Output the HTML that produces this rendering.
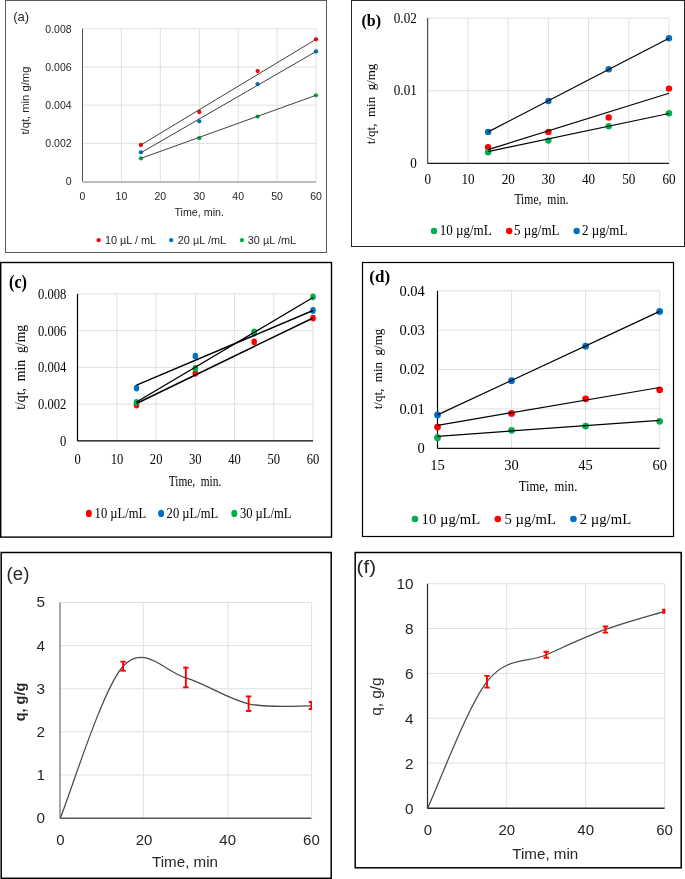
<!DOCTYPE html>
<html><head><meta charset="utf-8"><title>Figure</title>
<style>
html,body{margin:0;padding:0;background:#fff;}
body{width:685px;height:879px;overflow:hidden;font-family:"Liberation Sans", sans-serif;}
svg{display:block;will-change:transform;}
</style></head><body>
<svg width="685" height="879" viewBox="0 0 685 879">
<rect x="0" y="0" width="685" height="879" fill="#fff"/>
<rect x="5.5" y="0.5" width="321" height="252" fill="none" stroke="#595959" stroke-width="1"/>
<text transform="translate(13.20,20.50)" font-size="13" font-family='"Liberation Sans", sans-serif' fill="#262626" text-anchor="start" xml:space="preserve">(a)</text>
<line x1="121.42" y1="28.78" x2="121.42" y2="181.50" stroke="#e0e0e0" stroke-width="1"/>
<line x1="160.34" y1="28.78" x2="160.34" y2="181.50" stroke="#e0e0e0" stroke-width="1"/>
<line x1="199.26" y1="28.78" x2="199.26" y2="181.50" stroke="#e0e0e0" stroke-width="1"/>
<line x1="238.18" y1="28.78" x2="238.18" y2="181.50" stroke="#e0e0e0" stroke-width="1"/>
<line x1="277.10" y1="28.78" x2="277.10" y2="181.50" stroke="#e0e0e0" stroke-width="1"/>
<line x1="316.02" y1="28.78" x2="316.02" y2="181.50" stroke="#e0e0e0" stroke-width="1"/>
<line x1="82.50" y1="143.32" x2="316.02" y2="143.32" stroke="#e0e0e0" stroke-width="1"/>
<line x1="82.50" y1="105.14" x2="316.02" y2="105.14" stroke="#e0e0e0" stroke-width="1"/>
<line x1="82.50" y1="66.96" x2="316.02" y2="66.96" stroke="#e0e0e0" stroke-width="1"/>
<line x1="82.50" y1="28.78" x2="316.02" y2="28.78" stroke="#e0e0e0" stroke-width="1"/>
<line x1="82.50" y1="28.78" x2="82.50" y2="181.50" stroke="#4d4d4d" stroke-width="1"/>
<line x1="82.50" y1="181.90" x2="316.02" y2="181.90" stroke="#a6a6a6" stroke-width="1.5"/>
<text transform="translate(71.60,185.30)" font-size="10.5" font-family='"Liberation Sans", sans-serif' fill="#262626" text-anchor="end" xml:space="preserve">0</text>
<text transform="translate(71.60,147.12)" font-size="10.5" font-family='"Liberation Sans", sans-serif' fill="#262626" text-anchor="end" xml:space="preserve">0.002</text>
<text transform="translate(71.60,108.94)" font-size="10.5" font-family='"Liberation Sans", sans-serif' fill="#262626" text-anchor="end" xml:space="preserve">0.004</text>
<text transform="translate(71.60,70.76)" font-size="10.5" font-family='"Liberation Sans", sans-serif' fill="#262626" text-anchor="end" xml:space="preserve">0.006</text>
<text transform="translate(71.60,32.58)" font-size="10.5" font-family='"Liberation Sans", sans-serif' fill="#262626" text-anchor="end" xml:space="preserve">0.008</text>
<text transform="translate(82.50,200.40)" font-size="10.5" font-family='"Liberation Sans", sans-serif' fill="#262626" text-anchor="middle" xml:space="preserve">0</text>
<text transform="translate(121.42,200.40)" font-size="10.5" font-family='"Liberation Sans", sans-serif' fill="#262626" text-anchor="middle" xml:space="preserve">10</text>
<text transform="translate(160.34,200.40)" font-size="10.5" font-family='"Liberation Sans", sans-serif' fill="#262626" text-anchor="middle" xml:space="preserve">20</text>
<text transform="translate(199.26,200.40)" font-size="10.5" font-family='"Liberation Sans", sans-serif' fill="#262626" text-anchor="middle" xml:space="preserve">30</text>
<text transform="translate(238.18,200.40)" font-size="10.5" font-family='"Liberation Sans", sans-serif' fill="#262626" text-anchor="middle" xml:space="preserve">40</text>
<text transform="translate(277.10,200.40)" font-size="10.5" font-family='"Liberation Sans", sans-serif' fill="#262626" text-anchor="middle" xml:space="preserve">50</text>
<text transform="translate(316.02,200.40)" font-size="10.5" font-family='"Liberation Sans", sans-serif' fill="#262626" text-anchor="middle" xml:space="preserve">60</text>
<text transform="translate(28.70,100.60) rotate(-90)" font-size="10.8" font-family='"Liberation Sans", sans-serif' fill="#262626" text-anchor="middle" textLength="68" lengthAdjust="spacingAndGlyphs" xml:space="preserve">t/qt, min g/mg</text>
<text transform="translate(199.20,216.20)" font-size="11" font-family='"Liberation Sans", sans-serif' fill="#262626" text-anchor="middle" textLength="49.5" lengthAdjust="spacingAndGlyphs" xml:space="preserve">Time, min.</text>
<circle cx="98.70" cy="240.10" r="2.2" fill="#ff0000"/>
<text transform="translate(104.90,243.80)" font-size="10.9" font-family='"Liberation Sans", sans-serif' fill="#262626" text-anchor="start" xml:space="preserve">10 µL / mL</text>
<circle cx="171.20" cy="240.10" r="2.2" fill="#0070c0"/>
<text transform="translate(177.80,243.80)" font-size="10.9" font-family='"Liberation Sans", sans-serif' fill="#262626" text-anchor="start" xml:space="preserve">20 µL /mL</text>
<circle cx="241.90" cy="240.10" r="2.2" fill="#00b050"/>
<text transform="translate(247.80,243.80)" font-size="10.9" font-family='"Liberation Sans", sans-serif' fill="#262626" text-anchor="start" xml:space="preserve">30 µL /mL</text>
<circle cx="140.88" cy="145.00" r="2.15" fill="#ff0000"/>
<circle cx="199.26" cy="112.00" r="2.15" fill="#ff0000"/>
<circle cx="257.64" cy="71.10" r="2.15" fill="#ff0000"/>
<circle cx="316.02" cy="39.30" r="2.15" fill="#ff0000"/>
<circle cx="140.88" cy="152.30" r="2.15" fill="#0070c0"/>
<circle cx="199.26" cy="121.30" r="2.15" fill="#0070c0"/>
<circle cx="257.64" cy="84.20" r="2.15" fill="#0070c0"/>
<circle cx="316.02" cy="51.50" r="2.15" fill="#0070c0"/>
<circle cx="140.88" cy="158.40" r="2.15" fill="#00b050"/>
<circle cx="199.26" cy="138.20" r="2.15" fill="#00b050"/>
<circle cx="257.64" cy="116.60" r="2.15" fill="#00b050"/>
<circle cx="316.02" cy="95.30" r="2.15" fill="#00b050"/>
<line x1="140.80" y1="145.00" x2="316.00" y2="39.30" stroke="#404040" stroke-width="1"/>
<line x1="140.80" y1="152.80" x2="316.00" y2="51.50" stroke="#404040" stroke-width="1"/>
<line x1="140.80" y1="158.40" x2="316.00" y2="95.30" stroke="#404040" stroke-width="1"/>
<rect x="351.5" y="0.5" width="333" height="246" fill="none" stroke="#262626" stroke-width="1"/>
<text transform="translate(361.50,26.00)" font-size="16" font-family='"Liberation Serif", serif' fill="#000" text-anchor="start" font-weight="bold" xml:space="preserve">(b)</text>
<line x1="468.00" y1="18.10" x2="468.00" y2="163.30" stroke="#e0e0e0" stroke-width="1"/>
<line x1="508.20" y1="18.10" x2="508.20" y2="163.30" stroke="#e0e0e0" stroke-width="1"/>
<line x1="548.40" y1="18.10" x2="548.40" y2="163.30" stroke="#e0e0e0" stroke-width="1"/>
<line x1="588.60" y1="18.10" x2="588.60" y2="163.30" stroke="#e0e0e0" stroke-width="1"/>
<line x1="628.80" y1="18.10" x2="628.80" y2="163.30" stroke="#e0e0e0" stroke-width="1"/>
<line x1="669.00" y1="18.10" x2="669.00" y2="163.30" stroke="#e0e0e0" stroke-width="1"/>
<line x1="427.80" y1="90.70" x2="669.00" y2="90.70" stroke="#e0e0e0" stroke-width="1"/>
<line x1="427.80" y1="18.10" x2="669.00" y2="18.10" stroke="#e0e0e0" stroke-width="1"/>
<line x1="427.60" y1="18.10" x2="427.60" y2="163.50" stroke="#555" stroke-width="1.3"/>
<line x1="427.50" y1="163.40" x2="669.00" y2="163.40" stroke="#1a1a1a" stroke-width="1.3"/>
<text transform="translate(416.80,167.70) scale(0.94,1)" font-size="14" font-family='"Liberation Serif", serif' fill="#000" text-anchor="end" xml:space="preserve">0</text>
<text transform="translate(416.80,95.10) scale(0.94,1)" font-size="14" font-family='"Liberation Serif", serif' fill="#000" text-anchor="end" xml:space="preserve">0.01</text>
<text transform="translate(416.80,22.50) scale(0.94,1)" font-size="14" font-family='"Liberation Serif", serif' fill="#000" text-anchor="end" xml:space="preserve">0.02</text>
<text transform="translate(427.80,184.30) scale(0.94,1)" font-size="14" font-family='"Liberation Serif", serif' fill="#000" text-anchor="middle" xml:space="preserve">0</text>
<text transform="translate(468.00,184.30) scale(0.94,1)" font-size="14" font-family='"Liberation Serif", serif' fill="#000" text-anchor="middle" xml:space="preserve">10</text>
<text transform="translate(508.20,184.30) scale(0.94,1)" font-size="14" font-family='"Liberation Serif", serif' fill="#000" text-anchor="middle" xml:space="preserve">20</text>
<text transform="translate(548.40,184.30) scale(0.94,1)" font-size="14" font-family='"Liberation Serif", serif' fill="#000" text-anchor="middle" xml:space="preserve">30</text>
<text transform="translate(588.60,184.30) scale(0.94,1)" font-size="14" font-family='"Liberation Serif", serif' fill="#000" text-anchor="middle" xml:space="preserve">40</text>
<text transform="translate(628.80,184.30) scale(0.94,1)" font-size="14" font-family='"Liberation Serif", serif' fill="#000" text-anchor="middle" xml:space="preserve">50</text>
<text transform="translate(669.00,184.30) scale(0.94,1)" font-size="14" font-family='"Liberation Serif", serif' fill="#000" text-anchor="middle" xml:space="preserve">60</text>
<text transform="translate(374.80,103.90) rotate(-90)" font-size="13" font-family='"Liberation Serif", serif' fill="#000" text-anchor="middle" xml:space="preserve">t/qt,  min  g/mg</text>
<text transform="translate(541.40,203.80)" font-size="14.3" font-family='"Liberation Serif", serif' fill="#000" text-anchor="middle" textLength="54" lengthAdjust="spacingAndGlyphs" xml:space="preserve">Time,  min.</text>
<circle cx="434.00" cy="231.00" r="3.2" fill="#00b050"/>
<text transform="translate(439.70,234.80) scale(0.93,1)" font-size="14" font-family='"Liberation Serif", serif' fill="#000" text-anchor="start" xml:space="preserve">10 µg/mL</text>
<circle cx="509.20" cy="231.00" r="3.2" fill="#ff0000"/>
<text transform="translate(514.10,234.80) scale(0.93,1)" font-size="14" font-family='"Liberation Serif", serif' fill="#000" text-anchor="start" xml:space="preserve">5 µg/mL</text>
<circle cx="576.70" cy="231.00" r="3.2" fill="#0070c0"/>
<text transform="translate(582.00,234.80) scale(0.93,1)" font-size="14" font-family='"Liberation Serif", serif' fill="#000" text-anchor="start" xml:space="preserve">2 µg/mL</text>
<circle cx="488.10" cy="131.90" r="3.2" fill="#0070c0"/>
<circle cx="548.40" cy="101.00" r="3.2" fill="#0070c0"/>
<circle cx="608.70" cy="69.20" r="3.2" fill="#0070c0"/>
<circle cx="669.00" cy="38.20" r="3.2" fill="#0070c0"/>
<circle cx="488.10" cy="147.20" r="3.2" fill="#ff0000"/>
<circle cx="548.40" cy="131.90" r="3.2" fill="#ff0000"/>
<circle cx="608.70" cy="117.50" r="3.2" fill="#ff0000"/>
<circle cx="669.00" cy="88.60" r="3.2" fill="#ff0000"/>
<circle cx="488.10" cy="152.30" r="3.2" fill="#00b050"/>
<circle cx="548.40" cy="140.60" r="3.2" fill="#00b050"/>
<circle cx="608.70" cy="126.30" r="3.2" fill="#00b050"/>
<circle cx="669.00" cy="113.30" r="3.2" fill="#00b050"/>
<line x1="488.10" y1="131.90" x2="669.00" y2="38.30" stroke="#000" stroke-width="1.2"/>
<line x1="488.10" y1="149.60" x2="669.00" y2="93.30" stroke="#000" stroke-width="1.2"/>
<line x1="488.10" y1="151.60" x2="669.00" y2="113.50" stroke="#000" stroke-width="1.2"/>
<rect x="0.7" y="262.5" width="330.8" height="274.6" fill="none" stroke="#000" stroke-width="1.4"/>
<text transform="translate(9.00,288.30) scale(0.9,1)" font-size="18" font-family='"Liberation Serif", serif' fill="#000" text-anchor="start" font-weight="bold" xml:space="preserve">(c)</text>
<line x1="116.92" y1="293.90" x2="116.92" y2="440.90" stroke="#e0e0e0" stroke-width="1"/>
<line x1="156.14" y1="293.90" x2="156.14" y2="440.90" stroke="#e0e0e0" stroke-width="1"/>
<line x1="195.36" y1="293.90" x2="195.36" y2="440.90" stroke="#e0e0e0" stroke-width="1"/>
<line x1="234.58" y1="293.90" x2="234.58" y2="440.90" stroke="#e0e0e0" stroke-width="1"/>
<line x1="273.80" y1="293.90" x2="273.80" y2="440.90" stroke="#e0e0e0" stroke-width="1"/>
<line x1="313.02" y1="293.90" x2="313.02" y2="440.90" stroke="#e0e0e0" stroke-width="1"/>
<line x1="77.70" y1="404.15" x2="313.02" y2="404.15" stroke="#e0e0e0" stroke-width="1"/>
<line x1="77.70" y1="367.40" x2="313.02" y2="367.40" stroke="#e0e0e0" stroke-width="1"/>
<line x1="77.70" y1="330.65" x2="313.02" y2="330.65" stroke="#e0e0e0" stroke-width="1"/>
<line x1="77.70" y1="293.90" x2="313.02" y2="293.90" stroke="#e0e0e0" stroke-width="1"/>
<line x1="77.50" y1="293.90" x2="77.50" y2="441.00" stroke="#000" stroke-width="1.2"/>
<line x1="77.50" y1="440.90" x2="313.02" y2="440.90" stroke="#000" stroke-width="1.4"/>
<text transform="translate(66.30,445.90) scale(0.85,1)" font-size="14.8" font-family='"Liberation Serif", serif' fill="#000" text-anchor="end" xml:space="preserve">0</text>
<text transform="translate(66.30,409.15) scale(0.85,1)" font-size="14.8" font-family='"Liberation Serif", serif' fill="#000" text-anchor="end" xml:space="preserve">0.002</text>
<text transform="translate(66.30,372.40) scale(0.85,1)" font-size="14.8" font-family='"Liberation Serif", serif' fill="#000" text-anchor="end" xml:space="preserve">0.004</text>
<text transform="translate(66.30,335.65) scale(0.85,1)" font-size="14.8" font-family='"Liberation Serif", serif' fill="#000" text-anchor="end" xml:space="preserve">0.006</text>
<text transform="translate(66.30,298.90) scale(0.85,1)" font-size="14.8" font-family='"Liberation Serif", serif' fill="#000" text-anchor="end" xml:space="preserve">0.008</text>
<text transform="translate(77.70,464.00) scale(0.85,1)" font-size="14.8" font-family='"Liberation Serif", serif' fill="#000" text-anchor="middle" xml:space="preserve">0</text>
<text transform="translate(116.92,464.00) scale(0.85,1)" font-size="14.8" font-family='"Liberation Serif", serif' fill="#000" text-anchor="middle" xml:space="preserve">10</text>
<text transform="translate(156.14,464.00) scale(0.85,1)" font-size="14.8" font-family='"Liberation Serif", serif' fill="#000" text-anchor="middle" xml:space="preserve">20</text>
<text transform="translate(195.36,464.00) scale(0.85,1)" font-size="14.8" font-family='"Liberation Serif", serif' fill="#000" text-anchor="middle" xml:space="preserve">30</text>
<text transform="translate(234.58,464.00) scale(0.85,1)" font-size="14.8" font-family='"Liberation Serif", serif' fill="#000" text-anchor="middle" xml:space="preserve">40</text>
<text transform="translate(273.80,464.00) scale(0.85,1)" font-size="14.8" font-family='"Liberation Serif", serif' fill="#000" text-anchor="middle" xml:space="preserve">50</text>
<text transform="translate(313.02,464.00) scale(0.85,1)" font-size="14.8" font-family='"Liberation Serif", serif' fill="#000" text-anchor="middle" xml:space="preserve">60</text>
<text transform="translate(25.00,367.30) rotate(-90)" font-size="14.8" font-family='"Liberation Serif", serif' fill="#000" text-anchor="middle" textLength="85" lengthAdjust="spacingAndGlyphs" xml:space="preserve">t/qt,  min  g/mg</text>
<text transform="translate(195.00,485.90)" font-size="15.4" font-family='"Liberation Serif", serif' fill="#000" text-anchor="middle" textLength="52.5" lengthAdjust="spacingAndGlyphs" xml:space="preserve">Time,  min.</text>
<ellipse cx="88.80" cy="513.40" rx="3.0" ry="3.6" fill="#ff0000"/>
<text transform="translate(94.60,517.80)" font-size="15.5" font-family='"Liberation Serif", serif' fill="#000" text-anchor="start" textLength="51.6" lengthAdjust="spacingAndGlyphs" xml:space="preserve">10 µL/mL</text>
<ellipse cx="161.10" cy="513.40" rx="3.0" ry="3.6" fill="#0070c0"/>
<text transform="translate(166.60,517.80)" font-size="15.5" font-family='"Liberation Serif", serif' fill="#000" text-anchor="start" textLength="51.6" lengthAdjust="spacingAndGlyphs" xml:space="preserve">20 µL/mL</text>
<ellipse cx="234.30" cy="513.40" rx="3.0" ry="3.6" fill="#00b050"/>
<text transform="translate(239.90,517.80)" font-size="15.5" font-family='"Liberation Serif", serif' fill="#000" text-anchor="start" textLength="51.6" lengthAdjust="spacingAndGlyphs" xml:space="preserve">30 µL/mL</text>
<ellipse cx="136.53" cy="405.00" rx="2.8" ry="3.4" fill="#ff0000"/>
<ellipse cx="195.36" cy="373.20" rx="2.8" ry="3.4" fill="#ff0000"/>
<ellipse cx="254.19" cy="341.80" rx="2.8" ry="3.4" fill="#ff0000"/>
<ellipse cx="313.02" cy="318.10" rx="2.8" ry="3.4" fill="#ff0000"/>
<ellipse cx="136.53" cy="388.10" rx="2.8" ry="3.4" fill="#0070c0"/>
<ellipse cx="195.36" cy="356.10" rx="2.8" ry="3.4" fill="#0070c0"/>
<ellipse cx="254.19" cy="333.00" rx="2.8" ry="3.4" fill="#0070c0"/>
<ellipse cx="313.02" cy="310.40" rx="2.8" ry="3.4" fill="#0070c0"/>
<ellipse cx="136.53" cy="402.30" rx="2.8" ry="3.4" fill="#00b050"/>
<ellipse cx="195.36" cy="368.40" rx="2.8" ry="3.4" fill="#00b050"/>
<ellipse cx="254.19" cy="332.00" rx="2.8" ry="3.4" fill="#00b050"/>
<ellipse cx="313.02" cy="296.80" rx="2.8" ry="3.4" fill="#00b050"/>
<line x1="136.53" y1="385.20" x2="313.02" y2="310.50" stroke="#000" stroke-width="1.4"/>
<line x1="136.53" y1="402.00" x2="313.02" y2="297.50" stroke="#000" stroke-width="1.4"/>
<line x1="136.53" y1="403.50" x2="313.02" y2="318.00" stroke="#000" stroke-width="1.4"/>
<rect x="362.5" y="262.5" width="311" height="274" fill="none" stroke="#000" stroke-width="1.2"/>
<text transform="translate(369.30,281.80)" font-size="17" font-family='"Liberation Serif", serif' fill="#000" text-anchor="start" font-weight="bold" xml:space="preserve">(d)</text>
<line x1="511.56" y1="290.80" x2="511.56" y2="448.20" stroke="#e0e0e0" stroke-width="1"/>
<line x1="585.61" y1="290.80" x2="585.61" y2="448.20" stroke="#e0e0e0" stroke-width="1"/>
<line x1="659.66" y1="290.80" x2="659.66" y2="448.20" stroke="#e0e0e0" stroke-width="1"/>
<line x1="437.50" y1="408.85" x2="659.66" y2="408.85" stroke="#e0e0e0" stroke-width="1"/>
<line x1="437.50" y1="369.50" x2="659.66" y2="369.50" stroke="#e0e0e0" stroke-width="1"/>
<line x1="437.50" y1="330.15" x2="659.66" y2="330.15" stroke="#e0e0e0" stroke-width="1"/>
<line x1="437.50" y1="290.80" x2="659.66" y2="290.80" stroke="#e0e0e0" stroke-width="1"/>
<line x1="437.50" y1="290.80" x2="437.50" y2="448.50" stroke="#000" stroke-width="1.2"/>
<line x1="437.50" y1="448.40" x2="659.66" y2="448.40" stroke="#111" stroke-width="1.1"/>
<text transform="translate(424.80,453.00)" font-size="14.5" font-family='"Liberation Serif", serif' fill="#000" text-anchor="end" xml:space="preserve">0</text>
<text transform="translate(424.80,413.65)" font-size="14.5" font-family='"Liberation Serif", serif' fill="#000" text-anchor="end" xml:space="preserve">0.01</text>
<text transform="translate(424.80,374.30)" font-size="14.5" font-family='"Liberation Serif", serif' fill="#000" text-anchor="end" xml:space="preserve">0.02</text>
<text transform="translate(424.80,334.95)" font-size="14.5" font-family='"Liberation Serif", serif' fill="#000" text-anchor="end" xml:space="preserve">0.03</text>
<text transform="translate(424.80,295.60)" font-size="14.5" font-family='"Liberation Serif", serif' fill="#000" text-anchor="end" xml:space="preserve">0.04</text>
<text transform="translate(437.50,470.20)" font-size="14.5" font-family='"Liberation Serif", serif' fill="#000" text-anchor="middle" xml:space="preserve">15</text>
<text transform="translate(511.56,470.20)" font-size="14.5" font-family='"Liberation Serif", serif' fill="#000" text-anchor="middle" xml:space="preserve">30</text>
<text transform="translate(585.61,470.20)" font-size="14.5" font-family='"Liberation Serif", serif' fill="#000" text-anchor="middle" xml:space="preserve">45</text>
<text transform="translate(659.66,470.20)" font-size="14.5" font-family='"Liberation Serif", serif' fill="#000" text-anchor="middle" xml:space="preserve">60</text>
<text transform="translate(382.00,369.00) rotate(-90)" font-size="13" font-family='"Liberation Serif", serif' fill="#000" text-anchor="middle" xml:space="preserve">t/qt,  min  g/mg</text>
<text transform="translate(548.00,490.70)" font-size="15" font-family='"Liberation Serif", serif' fill="#000" text-anchor="middle" textLength="58.6" lengthAdjust="spacingAndGlyphs" xml:space="preserve">Time,  min.</text>
<circle cx="415.00" cy="519.00" r="3.3" fill="#00b050"/>
<text transform="translate(421.60,524.00)" font-size="14.7" font-family='"Liberation Serif", serif' fill="#000" text-anchor="start" xml:space="preserve">10 µg/mL</text>
<circle cx="497.80" cy="519.00" r="3.3" fill="#ff0000"/>
<text transform="translate(504.60,524.00)" font-size="14.7" font-family='"Liberation Serif", serif' fill="#000" text-anchor="start" xml:space="preserve">5 µg/mL</text>
<circle cx="573.40" cy="519.00" r="3.3" fill="#0070c0"/>
<text transform="translate(579.80,524.00)" font-size="14.7" font-family='"Liberation Serif", serif' fill="#000" text-anchor="start" xml:space="preserve">2 µg/mL</text>
<circle cx="437.50" cy="414.90" r="3.4" fill="#0070c0"/>
<circle cx="511.56" cy="380.70" r="3.4" fill="#0070c0"/>
<circle cx="585.61" cy="346.20" r="3.4" fill="#0070c0"/>
<circle cx="659.66" cy="311.40" r="3.4" fill="#0070c0"/>
<circle cx="437.50" cy="427.10" r="3.4" fill="#ff0000"/>
<circle cx="511.56" cy="413.40" r="3.4" fill="#ff0000"/>
<circle cx="585.61" cy="398.80" r="3.4" fill="#ff0000"/>
<circle cx="659.66" cy="389.80" r="3.4" fill="#ff0000"/>
<circle cx="437.50" cy="437.70" r="3.4" fill="#00b050"/>
<circle cx="511.56" cy="430.30" r="3.4" fill="#00b050"/>
<circle cx="585.61" cy="426.10" r="3.4" fill="#00b050"/>
<circle cx="659.66" cy="421.30" r="3.4" fill="#00b050"/>
<line x1="437.50" y1="414.90" x2="659.66" y2="311.40" stroke="#000" stroke-width="1.2"/>
<line x1="437.50" y1="425.30" x2="659.66" y2="387.50" stroke="#000" stroke-width="1.2"/>
<line x1="437.50" y1="436.30" x2="659.66" y2="420.30" stroke="#000" stroke-width="1.2"/>
<rect x="1.2" y="552.5" width="330" height="325.8" fill="none" stroke="#000" stroke-width="1.5"/>
<text transform="translate(6.60,580.10)" font-size="17.5" font-family='"Liberation Sans", sans-serif' fill="#262626" text-anchor="start" textLength="22.8" lengthAdjust="spacingAndGlyphs" xml:space="preserve">(e)</text>
<line x1="143.30" y1="602.50" x2="143.30" y2="818.00" stroke="#e0e0e0" stroke-width="1"/>
<line x1="228.10" y1="602.50" x2="228.10" y2="818.00" stroke="#e0e0e0" stroke-width="1"/>
<line x1="311.60" y1="602.50" x2="311.60" y2="818.00" stroke="#e0e0e0" stroke-width="1"/>
<line x1="60.30" y1="774.90" x2="311.40" y2="774.90" stroke="#e0e0e0" stroke-width="1"/>
<line x1="60.30" y1="731.80" x2="311.40" y2="731.80" stroke="#e0e0e0" stroke-width="1"/>
<line x1="60.30" y1="688.70" x2="311.40" y2="688.70" stroke="#e0e0e0" stroke-width="1"/>
<line x1="60.30" y1="645.60" x2="311.40" y2="645.60" stroke="#e0e0e0" stroke-width="1"/>
<line x1="60.30" y1="602.50" x2="311.40" y2="602.50" stroke="#e0e0e0" stroke-width="1"/>
<line x1="60.00" y1="602.50" x2="60.00" y2="818.50" stroke="#8a8a8a" stroke-width="1.5"/>
<line x1="60.50" y1="818.20" x2="311.40" y2="818.20" stroke="#595959" stroke-width="1.4"/>
<text transform="translate(45.00,822.90)" font-size="15.3" font-family='"Liberation Sans", sans-serif' fill="#262626" text-anchor="end" xml:space="preserve">0</text>
<text transform="translate(45.00,779.80)" font-size="15.3" font-family='"Liberation Sans", sans-serif' fill="#262626" text-anchor="end" xml:space="preserve">1</text>
<text transform="translate(45.00,736.70)" font-size="15.3" font-family='"Liberation Sans", sans-serif' fill="#262626" text-anchor="end" xml:space="preserve">2</text>
<text transform="translate(45.00,693.60)" font-size="15.3" font-family='"Liberation Sans", sans-serif' fill="#262626" text-anchor="end" xml:space="preserve">3</text>
<text transform="translate(45.00,650.50)" font-size="15.3" font-family='"Liberation Sans", sans-serif' fill="#262626" text-anchor="end" xml:space="preserve">4</text>
<text transform="translate(45.00,607.40)" font-size="15.3" font-family='"Liberation Sans", sans-serif' fill="#262626" text-anchor="end" xml:space="preserve">5</text>
<text transform="translate(60.30,845.20)" font-size="15" font-family='"Liberation Sans", sans-serif' fill="#262626" text-anchor="middle" xml:space="preserve">0</text>
<text transform="translate(144.00,845.20)" font-size="15" font-family='"Liberation Sans", sans-serif' fill="#262626" text-anchor="middle" xml:space="preserve">20</text>
<text transform="translate(227.70,845.20)" font-size="15" font-family='"Liberation Sans", sans-serif' fill="#262626" text-anchor="middle" xml:space="preserve">40</text>
<text transform="translate(311.40,845.20)" font-size="15" font-family='"Liberation Sans", sans-serif' fill="#262626" text-anchor="middle" xml:space="preserve">60</text>
<text transform="translate(25.00,702.00) rotate(-90)" font-size="14.5" font-family='"Liberation Sans", sans-serif' fill="#262626" text-anchor="middle" font-weight="bold" xml:space="preserve">q, g/g</text>
<text transform="translate(185.00,867.00)" font-size="15.3" font-family='"Liberation Sans", sans-serif' fill="#262626" text-anchor="middle" textLength="66" lengthAdjust="spacingAndGlyphs" xml:space="preserve">Time, min</text>
<path d="M60.30,818.00 C70.76,792.71 102.15,689.63 123.07,666.29 C144.00,642.94 164.92,671.68 185.85,677.92 C206.77,684.17 227.70,699.12 248.62,703.78 C269.55,708.45 300.94,705.58 311.40,705.94" fill="none" stroke="#4a4a4a" stroke-width="1.25"/>
<clipPath id="ce"><rect x="60" y="600" width="252" height="220"/></clipPath><g clip-path="url(#ce)">
<line x1="123.07" y1="661.70" x2="123.07" y2="670.70" stroke="#ff0000" stroke-width="1.9"/>
<line x1="120.37" y1="661.70" x2="125.77" y2="661.70" stroke="#ff0000" stroke-width="1.9"/>
<line x1="120.37" y1="670.70" x2="125.77" y2="670.70" stroke="#ff0000" stroke-width="1.9"/>
<line x1="185.85" y1="667.60" x2="185.85" y2="687.30" stroke="#ff0000" stroke-width="1.9"/>
<line x1="183.15" y1="667.60" x2="188.55" y2="667.60" stroke="#ff0000" stroke-width="1.9"/>
<line x1="183.15" y1="687.30" x2="188.55" y2="687.30" stroke="#ff0000" stroke-width="1.9"/>
<line x1="248.62" y1="696.40" x2="248.62" y2="711.00" stroke="#ff0000" stroke-width="1.9"/>
<line x1="245.93" y1="696.40" x2="251.32" y2="696.40" stroke="#ff0000" stroke-width="1.9"/>
<line x1="245.93" y1="711.00" x2="251.32" y2="711.00" stroke="#ff0000" stroke-width="1.9"/>
<line x1="311.40" y1="701.90" x2="311.40" y2="709.00" stroke="#ff0000" stroke-width="1.9"/>
<line x1="308.70" y1="701.90" x2="314.10" y2="701.90" stroke="#ff0000" stroke-width="1.9"/>
<line x1="308.70" y1="709.00" x2="314.10" y2="709.00" stroke="#ff0000" stroke-width="1.9"/>
</g>
<rect x="355.2" y="552.5" width="326" height="315.3" fill="none" stroke="#000" stroke-width="1.5"/>
<text transform="translate(356.60,573.30)" font-size="18" font-family='"Liberation Sans", sans-serif' fill="#262626" text-anchor="start" textLength="19.5" lengthAdjust="spacingAndGlyphs" xml:space="preserve">(f)</text>
<line x1="506.74" y1="583.70" x2="506.74" y2="807.90" stroke="#e0e0e0" stroke-width="1"/>
<line x1="585.68" y1="583.70" x2="585.68" y2="807.90" stroke="#e0e0e0" stroke-width="1"/>
<line x1="664.62" y1="583.70" x2="664.62" y2="807.90" stroke="#e0e0e0" stroke-width="1"/>
<line x1="427.80" y1="763.06" x2="664.62" y2="763.06" stroke="#e0e0e0" stroke-width="1"/>
<line x1="427.80" y1="718.22" x2="664.62" y2="718.22" stroke="#e0e0e0" stroke-width="1"/>
<line x1="427.80" y1="673.38" x2="664.62" y2="673.38" stroke="#e0e0e0" stroke-width="1"/>
<line x1="427.80" y1="628.54" x2="664.62" y2="628.54" stroke="#e0e0e0" stroke-width="1"/>
<line x1="427.80" y1="583.70" x2="664.62" y2="583.70" stroke="#e0e0e0" stroke-width="1"/>
<line x1="427.50" y1="583.70" x2="427.50" y2="808.50" stroke="#262626" stroke-width="1.2"/>
<line x1="427.50" y1="808.20" x2="664.62" y2="808.20" stroke="#262626" stroke-width="1.4"/>
<text transform="translate(413.40,813.50)" font-size="15.3" font-family='"Liberation Sans", sans-serif' fill="#262626" text-anchor="end" xml:space="preserve">0</text>
<text transform="translate(413.40,768.66)" font-size="15.3" font-family='"Liberation Sans", sans-serif' fill="#262626" text-anchor="end" xml:space="preserve">2</text>
<text transform="translate(413.40,723.82)" font-size="15.3" font-family='"Liberation Sans", sans-serif' fill="#262626" text-anchor="end" xml:space="preserve">4</text>
<text transform="translate(413.40,678.98)" font-size="15.3" font-family='"Liberation Sans", sans-serif' fill="#262626" text-anchor="end" xml:space="preserve">6</text>
<text transform="translate(413.40,634.14)" font-size="15.3" font-family='"Liberation Sans", sans-serif' fill="#262626" text-anchor="end" xml:space="preserve">8</text>
<text transform="translate(413.40,589.30)" font-size="15.3" font-family='"Liberation Sans", sans-serif' fill="#262626" text-anchor="end" xml:space="preserve">10</text>
<text transform="translate(427.80,835.00)" font-size="15" font-family='"Liberation Sans", sans-serif' fill="#262626" text-anchor="middle" xml:space="preserve">0</text>
<text transform="translate(506.74,835.00)" font-size="15" font-family='"Liberation Sans", sans-serif' fill="#262626" text-anchor="middle" xml:space="preserve">20</text>
<text transform="translate(585.68,835.00)" font-size="15" font-family='"Liberation Sans", sans-serif' fill="#262626" text-anchor="middle" xml:space="preserve">40</text>
<text transform="translate(664.62,835.00)" font-size="15" font-family='"Liberation Sans", sans-serif' fill="#262626" text-anchor="middle" xml:space="preserve">60</text>
<text transform="translate(380.80,696.60) rotate(-90)" font-size="14.5" font-family='"Liberation Sans", sans-serif' fill="#262626" text-anchor="middle" textLength="38.5" lengthAdjust="spacingAndGlyphs" xml:space="preserve">q, g/g</text>
<text transform="translate(545.30,858.70)" font-size="15.3" font-family='"Liberation Sans", sans-serif' fill="#262626" text-anchor="middle" textLength="66" lengthAdjust="spacingAndGlyphs" xml:space="preserve">Time, min</text>
<path d="M427.80,807.90 C437.67,786.86 467.27,707.20 487.00,681.68 C506.74,656.15 526.48,663.48 546.21,654.77 C565.95,646.06 585.68,636.69 605.41,629.44 C625.15,622.19 654.75,614.30 664.62,611.28" fill="none" stroke="#4a4a4a" stroke-width="1.25"/>
<clipPath id="cf"><rect x="427" y="580" width="238.3" height="230"/></clipPath><g clip-path="url(#cf)">
<line x1="487.00" y1="675.90" x2="487.00" y2="687.60" stroke="#ff0000" stroke-width="1.9"/>
<line x1="484.31" y1="675.90" x2="489.70" y2="675.90" stroke="#ff0000" stroke-width="1.9"/>
<line x1="484.31" y1="687.60" x2="489.70" y2="687.60" stroke="#ff0000" stroke-width="1.9"/>
<line x1="546.21" y1="651.80" x2="546.21" y2="657.70" stroke="#ff0000" stroke-width="1.9"/>
<line x1="543.51" y1="651.80" x2="548.91" y2="651.80" stroke="#ff0000" stroke-width="1.9"/>
<line x1="543.51" y1="657.70" x2="548.91" y2="657.70" stroke="#ff0000" stroke-width="1.9"/>
<line x1="605.41" y1="626.50" x2="605.41" y2="632.60" stroke="#ff0000" stroke-width="1.9"/>
<line x1="602.71" y1="626.50" x2="608.12" y2="626.50" stroke="#ff0000" stroke-width="1.9"/>
<line x1="602.71" y1="632.60" x2="608.12" y2="632.60" stroke="#ff0000" stroke-width="1.9"/>
<line x1="664.62" y1="609.80" x2="664.62" y2="612.80" stroke="#ff0000" stroke-width="1.9"/>
<line x1="661.92" y1="609.80" x2="667.32" y2="609.80" stroke="#ff0000" stroke-width="1.9"/>
<line x1="661.92" y1="612.80" x2="667.32" y2="612.80" stroke="#ff0000" stroke-width="1.9"/>
</g>
</svg>
</body></html>
